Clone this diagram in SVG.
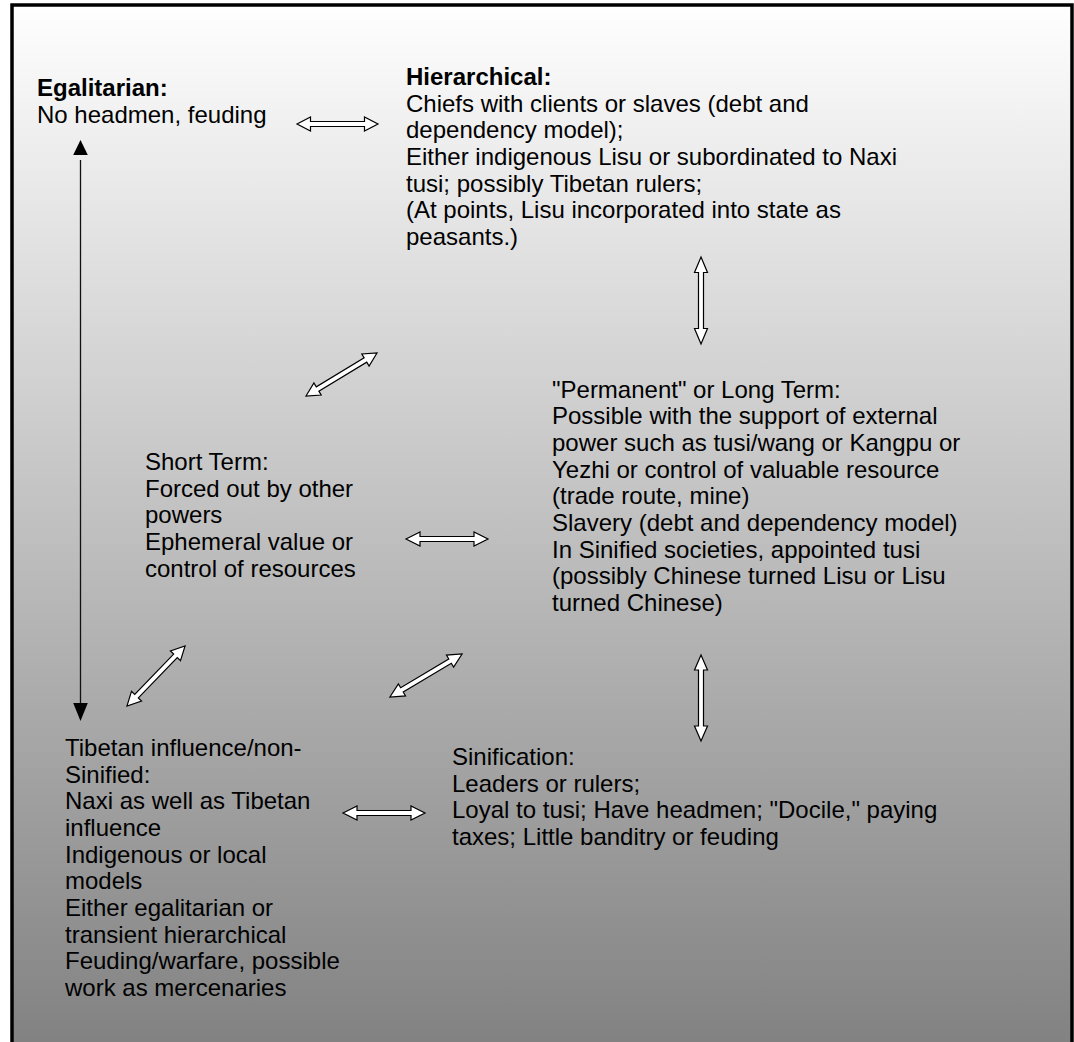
<svg xmlns="http://www.w3.org/2000/svg" width="1074" height="1042" viewBox="0 0 1074 1042">
<defs>
<linearGradient id="bg" gradientUnits="userSpaceOnUse" x1="0" y1="0" x2="0" y2="1042">
<stop offset="0" stop-color="#ffffff"/>
<stop offset="1" stop-color="#828282"/>
</linearGradient>
<path id="dbl" d="M-0.5,0 L-0.5,0"/>
<marker id="tri" viewBox="0 0 10 10" refX="10" refY="5" markerWidth="14.6" markerHeight="14.6" markerUnits="userSpaceOnUse" orient="auto">
<path d="M0,0 L10,5 L0,10 Z" fill="#000"/>
</marker>
</defs>
<style>
text { font-family: "Liberation Sans", Arial, Helvetica, sans-serif; font-size: 24px; fill: #000; }
.b { font-weight: bold; }
.blk { fill: #ffffff; stroke: #000; stroke-width: 1.2; stroke-linejoin: miter; }
.ln { stroke: #111; stroke-width: 1.3; fill: none; }
</style>
<rect x="12" y="5" width="1060" height="1060" fill="url(#bg)" stroke="#000" stroke-width="3.5"/>

<g id="connectors">
<line class="ln" x1="80.5" y1="160" x2="80.5" y2="704"/>
<path d="M80.5,140 L87.8,155 L73.2,155 Z" fill="#000"/>
<path d="M80.5,721 L87.8,703 L73.2,703 Z" fill="#000"/>
<!-- block double arrows: length L along x, centered -->
<g transform="translate(337.5,124)"><path class="blk" d="M-40.5,0 L-27,-7 L-27,-2.5 L27,-2.5 L27,-7 L40.5,0 L27,7 L27,2.5 L-27,2.5 L-27,7 Z"/></g>
<g transform="translate(701,300.5) rotate(90)"><path class="blk" d="M-43.5,0 L-28,-6.5 L-28,-2.5 L28,-2.5 L28,-6.5 L43.5,0 L28,6.5 L28,2.5 L-28,2.5 L-28,6.5 Z"/></g>
<g transform="translate(341.5,374.5) rotate(-31.2)"><path class="blk" d="M-41.5,0 L-28,-7 L-28,-2.5 L28,-2.5 L28,-7 L41.5,0 L28,7 L28,2.5 L-28,2.5 L-28,7 Z"/></g>
<g transform="translate(447,539) "><path class="blk" d="M-41,0 L-27,-7 L-27,-2.5 L27,-2.5 L27,-7 L41,0 L27,7 L27,2.5 L-27,2.5 L-27,7 Z"/></g>
<g transform="translate(156,676) rotate(-45.97)"><path class="blk" d="M-41.8,0 L-28,-7 L-28,-2.5 L28,-2.5 L28,-7 L41.8,0 L28,7 L28,2.5 L-28,2.5 L-28,7 Z"/></g>
<g transform="translate(426,675.5) rotate(-30.8)"><path class="blk" d="M-42,0 L-28,-7 L-28,-2.5 L28,-2.5 L28,-7 L42,0 L28,7 L28,2.5 L-28,2.5 L-28,7 Z"/></g>
<g transform="translate(701,698) rotate(90)"><path class="blk" d="M-43,0 L-28,-6.5 L-28,-2.5 L28,-2.5 L28,-6.5 L43,0 L28,6.5 L28,2.5 L-28,2.5 L-28,6.5 Z"/></g>
<g transform="translate(384,813)"><path class="blk" d="M-41,0 L-27,-7 L-27,-2.5 L27,-2.5 L27,-7 L41,0 L27,7 L27,2.5 L-27,2.5 L-27,7 Z"/></g>
</g>

<g id="egalitarian">
<text x="37" y="96" class="b">Egalitarian:</text>
<text x="37" y="122.5">No headmen, feuding</text>
</g>

<g id="hierarchical">
<text x="406" y="85" class="b">Hierarchical:</text>
<text x="406" y="111.7">Chiefs with clients or slaves (debt and</text>
<text x="406" y="138.3">dependency model);</text>
<text x="406" y="165">Either indigenous Lisu or subordinated to Naxi</text>
<text x="406" y="191.7">tusi; possibly Tibetan rulers;</text>
<text x="406" y="218.3">(At points, Lisu incorporated into state as</text>
<text x="406" y="245">peasants.)</text>
</g>

<g id="permanent">
<text x="552" y="397.7">"Permanent" or Long Term:</text>
<text x="552" y="424.3">Possible with the support of external</text>
<text x="552" y="451">power such as tusi/wang or Kangpu or</text>
<text x="552" y="477.7">Yezhi or control of valuable resource</text>
<text x="552" y="504.3">(trade route, mine)</text>
<text x="552" y="531">Slavery (debt and dependency model)</text>
<text x="552" y="557.7">In Sinified societies, appointed tusi</text>
<text x="552" y="584.3">(possibly Chinese turned Lisu or Lisu</text>
<text x="552" y="611">turned Chinese)</text>
</g>

<g id="short-term">
<text x="145" y="470">Short Term:</text>
<text x="145" y="496.7">Forced out by other</text>
<text x="145" y="523.3">powers</text>
<text x="145" y="550">Ephemeral value or</text>
<text x="145" y="576.7">control of resources</text>
</g>

<g id="tibetan">
<text x="65" y="756">Tibetan influence/non-</text>
<text x="65" y="782.7">Sinified:</text>
<text x="65" y="809.3">Naxi as well as Tibetan</text>
<text x="65" y="836">influence</text>
<text x="65" y="862.7">Indigenous or local</text>
<text x="65" y="889.3">models</text>
<text x="65" y="916">Either egalitarian or</text>
<text x="65" y="942.7">transient hierarchical</text>
<text x="65" y="969.3">Feuding/warfare, possible</text>
<text x="65" y="996">work as mercenaries</text>
</g>

<g id="sinification">
<text x="452" y="765">Sinification:</text>
<text x="452" y="791.7">Leaders or rulers;</text>
<text x="452" y="818.3">Loyal to tusi; Have headmen; "Docile," paying</text>
<text x="452" y="845">taxes; Little banditry or feuding</text>
</g>
</svg>
